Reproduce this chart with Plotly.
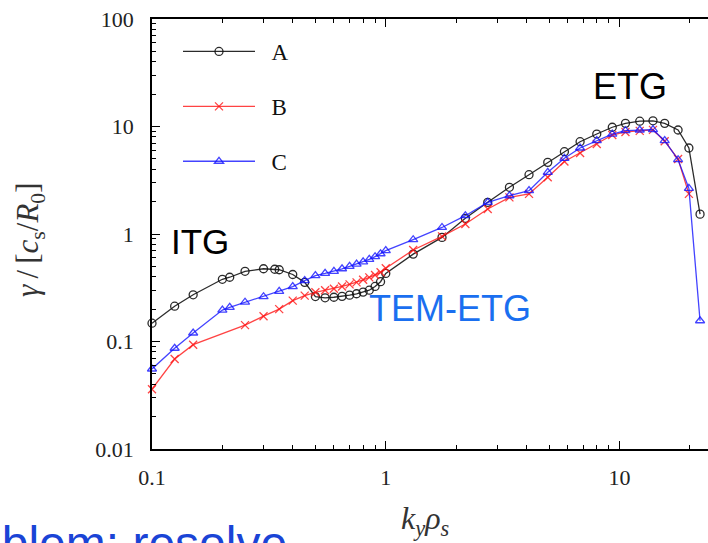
import plotly.graph_objects as go

# ---------------- data ----------------
A_x = [0.1, 0.125, 0.15, 0.2, 0.215, 0.25, 0.3, 0.335, 0.35, 0.4, 0.45,
       0.5, 0.55, 0.6, 0.65, 0.7, 0.75, 0.8, 0.85, 0.9, 0.95, 1.0,
       1.31, 1.74, 2.19, 2.73, 3.38, 4.1, 4.93, 5.81, 6.78, 7.99, 9.31,
       10.6, 12.2, 13.9, 15.6, 17.8, 19.8, 22.1]
A_y = [0.148, 0.213, 0.272, 0.379, 0.396, 0.45, 0.475, 0.47, 0.465, 0.42, 0.355,
       0.262, 0.255, 0.258, 0.263, 0.27, 0.278, 0.288, 0.30, 0.325, 0.36, 0.43,
       0.65, 0.93, 1.4, 1.97, 2.72, 3.56, 4.64, 5.83, 7.22, 8.51, 9.84,
       10.7, 11.2, 11.3, 10.7, 9.28, 6.31, 1.53]

B_x = [0.1, 0.125, 0.15, 0.25, 0.3, 0.35, 0.4, 0.45,
       0.5, 0.55, 0.6, 0.65, 0.7, 0.75, 0.8, 0.85, 0.9, 0.95, 1.0,
       1.31, 1.74, 2.19, 2.73, 3.38, 4.1, 4.93, 5.81, 6.78, 7.99, 9.31,
       10.6, 12.2, 13.9, 15.6, 17.8, 19.8]
B_y = [0.036, 0.0687, 0.0934, 0.142, 0.172, 0.2, 0.24, 0.267,
       0.287, 0.30, 0.31, 0.325, 0.34, 0.355, 0.375, 0.395, 0.415, 0.44, 0.48,
       0.71, 0.95, 1.24, 1.71, 2.19, 2.36, 3.37, 4.73, 5.67, 6.88, 8.33,
       8.9, 9.1, 9.3, 7.3, 4.98, 2.36]

C_x = [0.1, 0.125, 0.15, 0.2, 0.215, 0.25, 0.3, 0.35, 0.4, 0.45,
       0.5, 0.55, 0.6, 0.65, 0.7, 0.75, 0.8, 0.85, 0.9, 0.95, 1.0,
       1.31, 1.74, 2.19, 2.73, 3.38, 4.1, 4.93, 5.81, 6.78, 7.99, 9.31,
       10.6, 12.2, 13.9, 15.6, 17.8, 19.8, 22.1]
C_y = [0.0555, 0.0865, 0.12, 0.196, 0.208, 0.232, 0.261, 0.293, 0.324, 0.368,
       0.41, 0.43, 0.45, 0.475, 0.50, 0.525, 0.55, 0.58, 0.615, 0.655, 0.70,
       0.885, 1.15, 1.48, 1.97, 2.27, 2.53, 3.75, 5.06, 6.31, 7.38, 8.51,
       9.14, 9.28, 9.34, 7.38, 4.91, 2.66, 0.156]

series_names = ["A", "B", "C"]
y_tickvals = [0.01, 0.1, 1, 10, 100]
y_ticktext = ["0.01", "0.1", "1", "10", "100"]
x_tickvals = [0.1, 1, 10]
x_ticktext = ["0.1", "1", "10"]
x_minor = [0.2, 0.3, 0.4, 0.5, 0.6, 0.7, 0.8, 0.9,
           2, 3, 4, 5, 6, 7, 8, 9, 20]
y_minor = [m * d for d in (0.01, 0.1, 1, 10) for m in range(2, 10)]

# ---------------- layout helpers ----------------
W_FIG, H_FIG = 708, 543
L, R, T, B = 152, 708, 19, 449


def px(x):
    return (x - L) / (R - L)


def py(y):
    return (B - y) / (B - T)


SERIF = "Liberation Serif, DejaVu Serif, serif"
SANS = "Liberation Sans, Arial, sans-serif"

fig = go.Figure()
styles = [
    dict(color="rgba(20,20,20,0.9)", symbol="circle-open", size=8),
    dict(color="rgba(255,20,20,0.8)", symbol="x-thin-open", size=8),
    dict(color="rgba(20,20,255,0.8)", symbol="triangle-up-open", size=8),
]
for name, xs, ys, st in zip(series_names, [A_x, B_x, C_x], [A_y, B_y, C_y], styles):
    fig.add_trace(go.Scatter(
        x=xs, y=ys, name="\u2002" + name, mode="lines+markers",
        line=dict(color=st["color"], width=1.3),
        marker=dict(symbol=st["symbol"], size=st["size"], color=st["color"],
                    line=dict(color=st["color"], width=1.3)),
        legendgroup=name, cliponaxis=False,
    ))

axis_common = dict(
    showgrid=False, zeroline=False, showline=True, linecolor="black",
    linewidth=1.5, ticks="inside", ticklen=8, tickcolor="black", tickwidth=1.2,
    tickfont=dict(family=SERIF, size=22, color="#222"),
)

fig.update_layout(
    width=W_FIG, height=H_FIG,
    margin=dict(l=L, r=W_FIG - R, t=T, b=H_FIG - B),
    paper_bgcolor="white", plot_bgcolor="white",
    xaxis=dict(type="log", range=[-1, 1.3784], tickmode="array",
               tickvals=x_tickvals, ticktext=x_ticktext, mirror="ticks",
               ticklabelstandoff=8,
               minor=dict(tickmode="array", tickvals=x_minor, ticks="inside",
                          ticklen=4, tickcolor="black", showgrid=False),
               **axis_common),
    yaxis=dict(type="log", range=[-2, 2], tickmode="array",
               tickvals=y_tickvals, ticktext=y_ticktext, mirror=False,
               ticklabelstandoff=12,
               minor=dict(tickmode="array", tickvals=y_minor, ticks="inside",
                          ticklen=4, tickcolor="black", showgrid=False),
               **axis_common),
    legend=dict(x=px(178), y=py(30), xanchor="left", yanchor="top",
                bgcolor="rgba(0,0,0,0)", font=dict(family=SERIF, size=23, color="#111"),
                itemwidth=72, tracegroupgap=22),
    showlegend=True,
)

ann = [
    dict(text="<i>γ</i>\u2009/\u2009[<i>c</i><sub>s</sub>/<i>R</i><sub>0</sub>]", x=px(30), y=py(240),
         textangle=-90, font=dict(family=SERIF, size=31, color="#333")),
    dict(text="<i>k<sub>y</sub>ρ<sub>s</sub></i>", x=px(425), y=py(520),
         font=dict(family=SERIF, size=32, color="#333")),
    dict(text="ITG", x=px(200), y=py(242), font=dict(family=SANS, size=35, color="black")),
    dict(text="ETG", x=px(630), y=py(86), font=dict(family=SANS, size=36, color="black")),
    dict(text="TEM-ETG", x=px(450), y=py(308), font=dict(family=SANS, size=36, color="#1a6ff0")),
    dict(text="Problem: resolve", x=px(-75), y=py(543), xanchor="left",
         font=dict(family=SANS, size=48, color="#1a44d6")),
]
for a in ann:
    a.setdefault("xanchor", "center")
    fig.add_annotation(xref="paper", yref="paper", showarrow=False, yanchor="middle", **a)

fig.write_html("out.html")
